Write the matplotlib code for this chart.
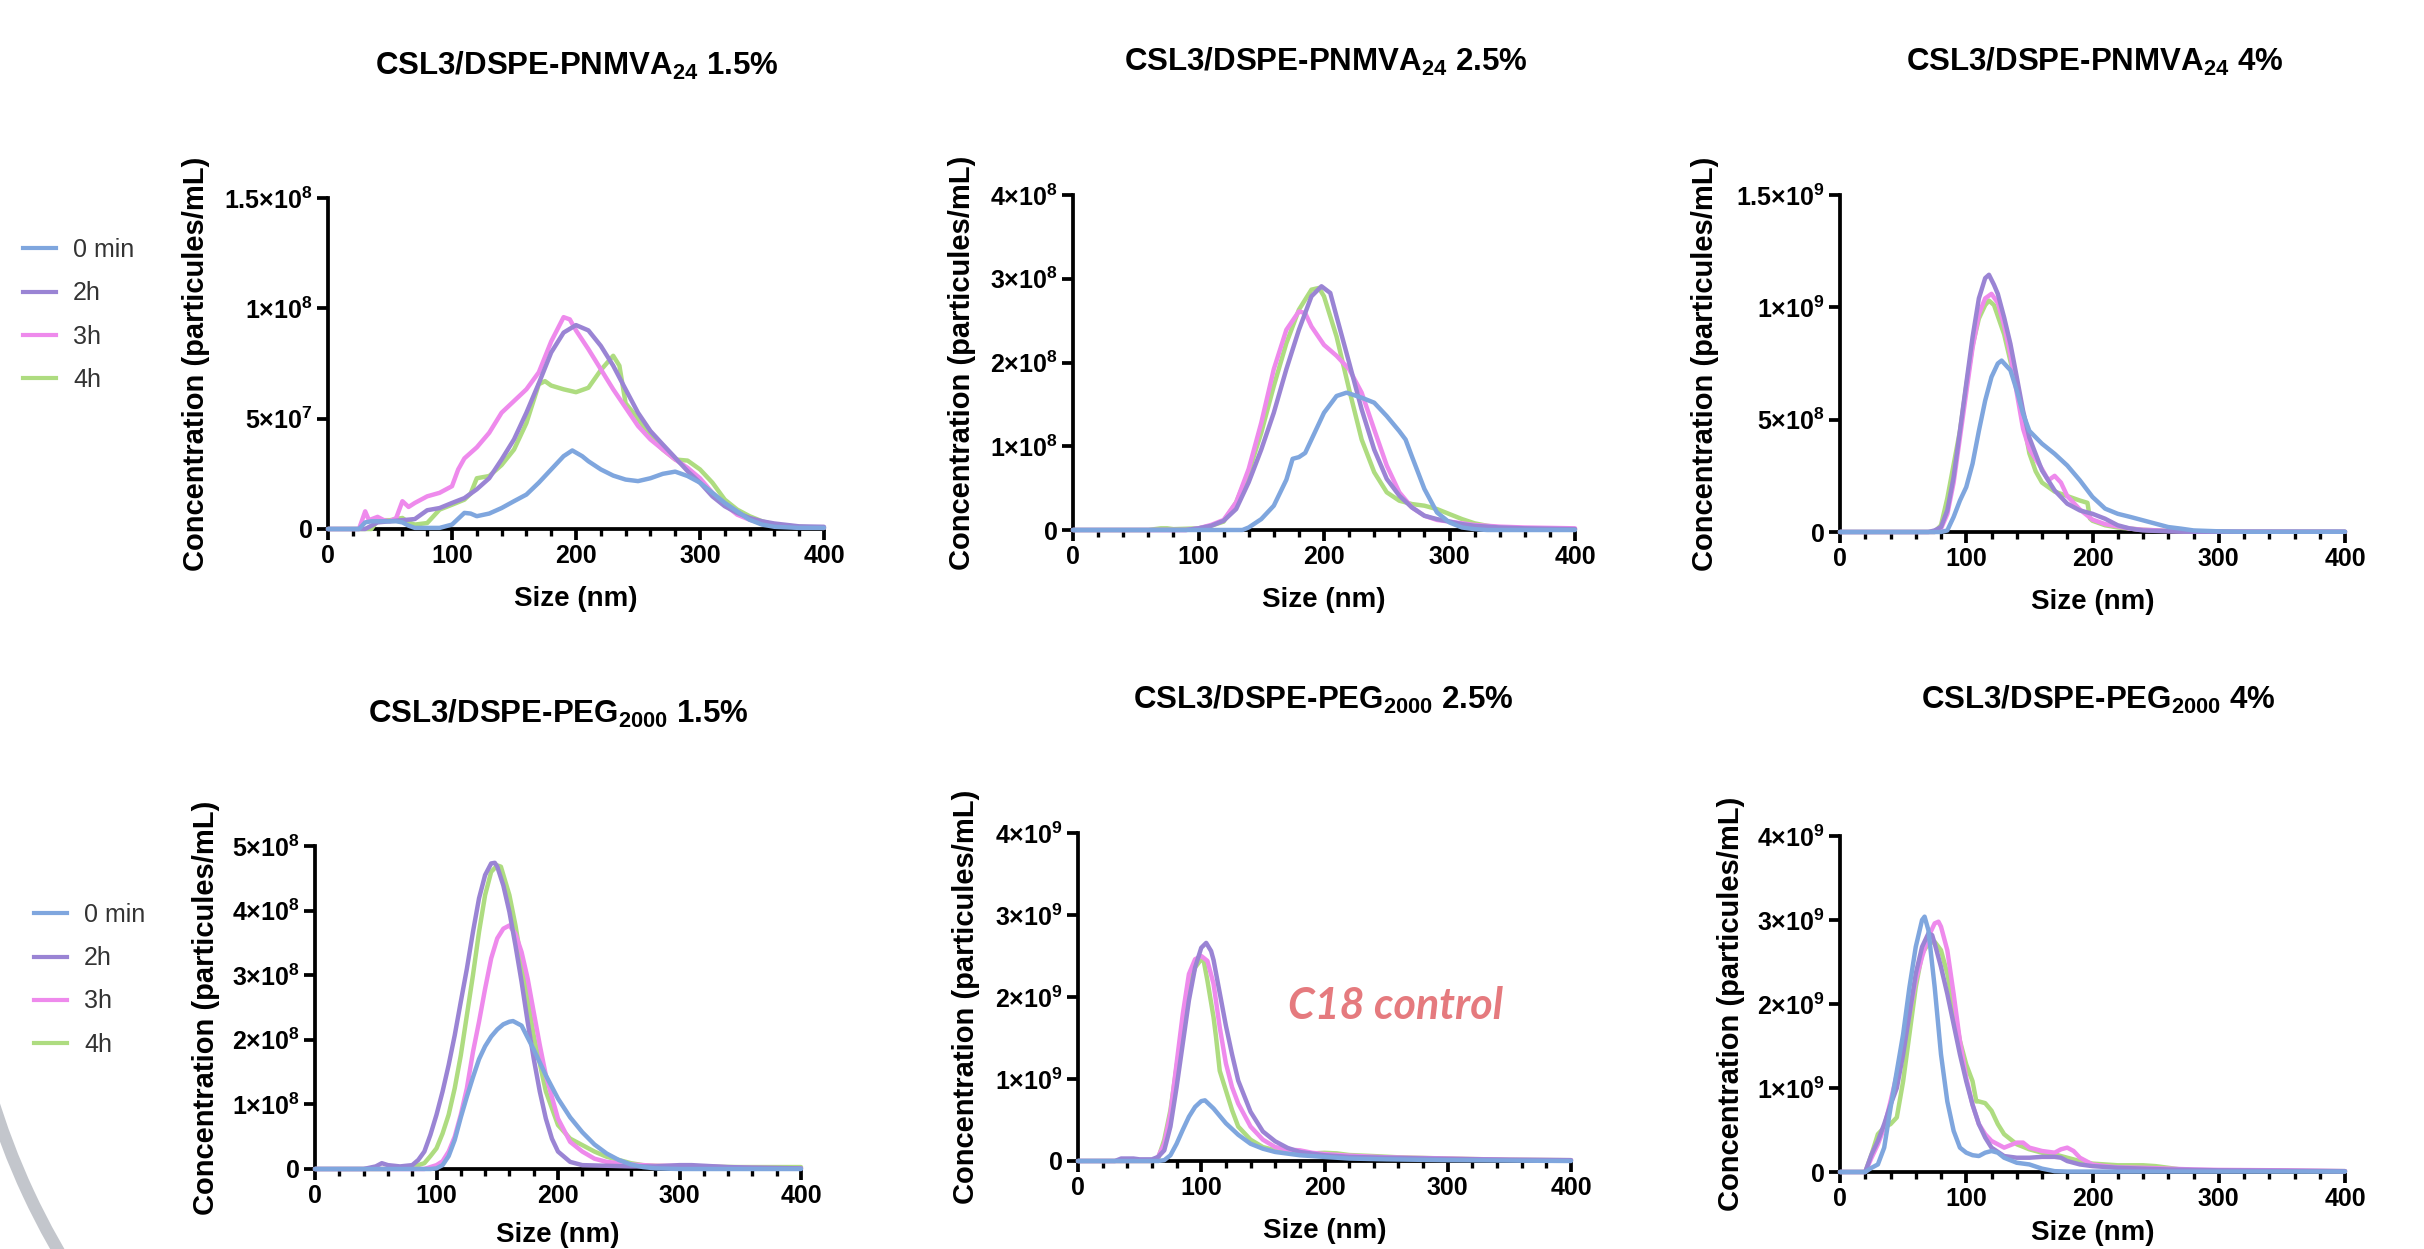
"""NTA size distributions over time, CSL3 formulations (6 panels)."""

import numpy as np
import matplotlib
matplotlib.use("Agg")
import matplotlib.pyplot as plt
from matplotlib.lines import Line2D
from matplotlib.patches import Arc
from matplotlib.transforms import IdentityTransform
from matplotlib.ticker import MultipleLocator

plt.rcParams['font.family'] = ['Liberation Sans', 'DejaVu Sans']
plt.rcParams['font.weight'] = 'bold'
plt.rcParams['axes.labelweight'] = 'bold'
plt.rcParams['mathtext.fontset'] = 'custom'
plt.rcParams['mathtext.rm'] = 'Liberation Sans:bold'
plt.rcParams['mathtext.it'] = 'Liberation Sans:bold'
plt.rcParams['mathtext.bf'] = 'Liberation Sans:bold'

W, H = 2424, 1249

# ── data (sizes in nm, concentrations in units of *_SCALE) ───────────────────
SERIES = ["0 min", "2h", "3h", "4h"]
COLORS = ["#7FA6DE", "#9A84D4", "#EE8AEC", "#AEDC80"]

# panel 1 : DSPE-PNMVA24 1.5 %  (x1e7)
P1_SCALE = 1e7
p1_0min_x = [0, 25, 30, 35, 45, 55, 60, 65, 70, 80, 90, 100, 110, 115, 120, 130, 140, 150, 160, 170, 180, 190,
             197, 205, 210, 220, 230, 240, 250, 260, 270, 280, 290, 300, 310, 320, 330, 340, 350, 360, 380, 400]
p1_0min_y = [0, 0, 0.3, 0.35, 0.35, 0.35, 0.3, 0.15, 0.05, 0.05, 0.05, 0.2, 0.73, 0.7, 0.58, 0.7, 0.95, 1.26,
             1.56, 2.1, 2.7, 3.3, 3.56, 3.3, 3.07, 2.7, 2.42, 2.24, 2.17, 2.3, 2.5, 2.6, 2.4, 2.1, 1.64, 1.18,
             0.8, 0.42, 0.2, 0.1, 0.05, 0.05]
p1_2h_x = [0, 30, 40, 50, 60, 70, 80, 90, 100, 110, 120, 130, 140, 150, 160, 170, 180, 190, 200, 210, 220, 230,
           240, 250, 260, 270, 280, 290, 300, 310, 320, 330, 340, 350, 360, 380, 400]
p1_2h_y = [0, 0, 0.3, 0.35, 0.4, 0.45, 0.85, 0.95, 1.18, 1.4, 1.8, 2.3, 3.15, 4.06, 5.27, 6.6, 8.0, 8.9, 9.24,
           9.0, 8.3, 7.4, 6.33, 5.27, 4.44, 3.83, 3.23, 2.62, 2.1, 1.48, 1.03, 0.73, 0.5, 0.35, 0.25, 0.12, 0.1]
p1_3h_x = [0, 25, 30, 33, 40, 45, 50, 55, 60, 65, 70, 80, 90, 100, 105, 110, 120, 130, 140, 150, 160, 170, 180,
           190, 195, 200, 210, 220, 230, 240, 250, 260, 270, 280, 290, 300, 310, 320, 330, 340, 350, 360, 380, 400]
p1_3h_y = [0, 0, 0.8, 0.4, 0.55, 0.4, 0.35, 0.5, 1.26, 1.0, 1.18, 1.48, 1.64, 1.94, 2.7, 3.2, 3.7, 4.36, 5.27,
           5.8, 6.33, 7.1, 8.5, 9.6, 9.5, 9.0, 8.15, 7.24, 6.33, 5.5, 4.67, 4.06, 3.6, 3.15, 2.77, 2.3, 1.64, 1.1,
           0.65, 0.42, 0.27, 0.15, 0.08, 0.05]
p1_4h_x = [0, 35, 40, 50, 60, 65, 70, 80, 90, 100, 110, 115, 120, 130, 140, 150, 160, 170, 175, 180, 190, 200,
           210, 220, 230, 235, 240, 250, 260, 270, 280, 290, 300, 310, 320, 330, 340, 350, 360, 380, 400]
p1_4h_y = [0, 0, 0.4, 0.4, 0.5, 0.3, 0.2, 0.27, 0.88, 1.1, 1.33, 1.6, 2.3, 2.4, 2.9, 3.6, 4.8, 6.56, 6.7, 6.5,
           6.33, 6.2, 6.4, 7.2, 7.85, 7.4, 5.7, 5.0, 4.2, 3.6, 3.15, 3.1, 2.7, 2.1, 1.33, 0.88, 0.58, 0.35, 0.2,
           0.1, 0.05]

# panel 2 : DSPE-PNMVA24 2.5 %  (x1e8)
P2_SCALE = 1e8
p2_0min_x = [0, 135, 140, 150, 160, 170, 175, 180, 185, 190, 200, 210, 218, 230, 240, 250, 260, 265, 270, 280,
             290, 300, 310, 320, 330, 400]
p2_0min_y = [0, 0, 0.03, 0.13, 0.29, 0.6, 0.85, 0.87, 0.92, 1.08, 1.4, 1.6, 1.64, 1.58, 1.52, 1.36, 1.18, 1.08,
             0.88, 0.49, 0.21, 0.09, 0.03, 0.01, 0, 0]
p2_2h_x = [0, 90, 100, 110, 120, 130, 140, 150, 160, 170, 180, 190, 198, 205, 210, 220, 230, 240, 250, 260, 270,
           280, 290, 300, 310, 320, 340, 360, 400]
p2_2h_y = [0, 0, 0.02, 0.05, 0.11, 0.25, 0.57, 0.96, 1.4, 1.92, 2.39, 2.79, 2.91, 2.83, 2.55, 2.0, 1.44, 0.96,
           0.61, 0.41, 0.27, 0.17, 0.13, 0.1, 0.07, 0.05, 0.03, 0.02, 0.01]
p2_3h_x = [0, 90, 100, 110, 120, 130, 140, 150, 160, 170, 180, 185, 190, 200, 210, 220, 230, 240, 250, 260, 270,
           280, 290, 300, 320, 340, 360, 400]
p2_3h_y = [0, 0, 0.02, 0.06, 0.12, 0.33, 0.73, 1.28, 1.92, 2.39, 2.61, 2.59, 2.43, 2.21, 2.08, 1.92, 1.64, 1.2,
           0.77, 0.45, 0.27, 0.17, 0.12, 0.1, 0.06, 0.04, 0.03, 0.02]
p2_4h_x = [0, 60, 70, 75, 80, 100, 110, 120, 130, 140, 150, 160, 170, 180, 190, 196, 200, 210, 220, 230, 240,
           250, 260, 270, 280, 290, 300, 310, 320, 330, 340, 360, 400]
p2_4h_y = [0, 0, 0.02, 0.02, 0.01, 0.02, 0.05, 0.1, 0.33, 0.69, 1.16, 1.72, 2.23, 2.63, 2.87, 2.89, 2.79, 2.31,
           1.68, 1.08, 0.69, 0.45, 0.35, 0.31, 0.29, 0.25, 0.19, 0.13, 0.08, 0.05, 0.03, 0.02, 0.01]

# panel 3 : DSPE-PNMVA24 4 %  (x1e8)
P3_SCALE = 1e8
p3_0min_x = [0, 80, 85, 90, 95, 100, 105, 110, 115, 120, 125, 128, 135, 140, 145, 150, 160, 170, 180, 190, 200,
             210, 220, 230, 240, 250, 260, 270, 280, 300, 320, 400]
p3_0min_y = [0, 0, 0.07, 0.67, 1.4, 2.0, 3.04, 4.5, 5.85, 6.9, 7.5, 7.63, 7.2, 6.3, 5.26, 4.5, 3.93, 3.48, 2.96,
             2.3, 1.56, 1.04, 0.81, 0.67, 0.52, 0.37, 0.22, 0.15, 0.07, 0.03, 0.01, 0.01]
p3_2h_x = [0, 70, 75, 80, 85, 90, 95, 100, 105, 110, 115, 118, 122, 125, 130, 135, 140, 145, 150, 160, 170, 180,
           190, 200, 210, 220, 230, 240, 260, 280, 400]
p3_2h_y = [0, 0, 0.07, 0.22, 0.96, 2.44, 4.5, 6.6, 8.67, 10.4, 11.3, 11.45, 11.0, 10.6, 9.55, 8.37, 6.9, 5.4,
           4.2, 2.74, 1.85, 1.26, 0.96, 0.81, 0.59, 0.3, 0.15, 0.07, 0.03, 0.01, 0.01]
p3_3h_x = [0, 75, 80, 85, 90, 95, 100, 105, 110, 115, 120, 125, 130, 135, 140, 145, 150, 160, 165, 170, 175,
           180, 190, 200, 210, 220, 230, 240, 260, 280, 400]
p3_3h_y = [0, 0, 0.15, 0.8, 2.2, 4.2, 6.2, 8.2, 9.7, 10.4, 10.6, 10.2, 9.2, 7.9, 6.2, 4.6, 3.7, 2.8, 2.3, 2.5,
           2.2, 1.6, 1.0, 0.55, 0.35, 0.25, 0.15, 0.1, 0.05, 0.02, 0.01]
p3_4h_x = [0, 75, 80, 85, 90, 95, 100, 105, 110, 115, 118, 122, 130, 135, 140, 145, 150, 155, 160, 170, 180,
           190, 196, 198, 200, 210, 220, 240, 260, 280, 400]
p3_4h_y = [0, 0, 0.3, 1.5, 3.0, 4.5, 6.5, 8.3, 9.5, 10.1, 10.3, 10.1, 8.8, 7.6, 6.5, 5.0, 3.5, 2.7, 2.2, 1.8,
           1.6, 1.4, 1.3, 0.6, 0.5, 0.3, 0.2, 0.1, 0.05, 0.02, 0.01]

# panel 4 : DSPE-PEG2000 1.5 %  (x1e8)
P4_SCALE = 1e8
p4_0min_x = [0, 95, 100, 105, 110, 115, 120, 125, 130, 135, 140, 145, 150, 155, 160, 163, 170, 180, 190, 200,
             210, 220, 230, 240, 250, 260, 270, 280, 300, 400]
p4_0min_y = [0, 0, 0.01, 0.06, 0.2, 0.45, 0.8, 1.12, 1.42, 1.7, 1.9, 2.05, 2.16, 2.24, 2.28, 2.29, 2.22, 1.85,
             1.45, 1.09, 0.8, 0.57, 0.38, 0.24, 0.14, 0.07, 0.03, 0.01, 0, 0]
p4_2h_x = [0, 40, 50, 55, 60, 70, 80, 85, 90, 95, 100, 105, 110, 115, 120, 125, 130, 135, 140, 145, 148, 150,
           155, 160, 165, 170, 175, 180, 185, 190, 195, 200, 210, 220, 240, 260, 280, 300, 310, 320, 340, 360, 400]
p4_2h_y = [0, 0, 0.04, 0.09, 0.06, 0.04, 0.06, 0.14, 0.27, 0.53, 0.84, 1.2, 1.61, 2.07, 2.59, 3.1, 3.67, 4.19,
           4.55, 4.73, 4.74, 4.68, 4.39, 3.98, 3.46, 2.9, 2.28, 1.71, 1.2, 0.78, 0.47, 0.27, 0.11, 0.06, 0.05,
           0.04, 0.04, 0.06, 0.06, 0.05, 0.03, 0.02, 0.01]
p4_3h_x = [0, 90, 100, 105, 110, 115, 120, 125, 130, 135, 140, 145, 150, 155, 160, 165, 170, 175, 180, 185, 190,
           200, 210, 220, 230, 240, 250, 260, 280, 300, 320, 350, 400]
p4_3h_y = [0, 0, 0.06, 0.12, 0.27, 0.5, 0.84, 1.25, 1.81, 2.28, 2.79, 3.26, 3.57, 3.72, 3.77, 3.64, 3.36, 2.95,
           2.43, 1.92, 1.45, 0.78, 0.42, 0.27, 0.16, 0.11, 0.09, 0.07, 0.05, 0.05, 0.04, 0.02, 0.01]
p4_4h_x = [0, 60, 70, 80, 90, 95, 100, 105, 110, 115, 120, 125, 130, 135, 140, 145, 150, 153, 160, 165, 170,
           175, 180, 190, 200, 210, 220, 230, 240, 250, 260, 270, 280, 300, 350, 400]
p4_4h_y = [0, 0, 0.02, 0.03, 0.09, 0.2, 0.32, 0.55, 0.84, 1.25, 1.76, 2.38, 3.0, 3.67, 4.24, 4.6, 4.7, 4.68,
           4.24, 3.77, 3.2, 2.64, 2.07, 1.2, 0.68, 0.47, 0.37, 0.27, 0.19, 0.14, 0.09, 0.06, 0.05, 0.04, 0.03, 0.03]

# panel 5 : DSPE-PEG2000 2.5 % (C18 control)  (x1e9)
P5_SCALE = 1e9
p5_0min_x = [0, 65, 70, 75, 80, 85, 90, 95, 100, 103, 110, 120, 130, 140, 150, 160, 170, 180, 190, 200, 220,
             250, 300, 400]
p5_0min_y = [0, 0, 0.01, 0.07, 0.21, 0.38, 0.54, 0.66, 0.73, 0.74, 0.64, 0.46, 0.32, 0.21, 0.15, 0.11, 0.09,
             0.07, 0.06, 0.05, 0.03, 0.02, 0.01, 0]
p5_2h_x = [0, 30, 35, 45, 50, 60, 65, 70, 75, 80, 85, 90, 95, 100, 104, 108, 110, 115, 120, 125, 130, 140, 150,
           160, 170, 180, 190, 200, 220, 250, 300, 350, 400]
p5_2h_y = [0, 0, 0.03, 0.03, 0.02, 0.02, 0.05, 0.13, 0.42, 0.9, 1.43, 1.96, 2.36, 2.6, 2.66, 2.56, 2.45, 2.05,
           1.65, 1.3, 0.98, 0.6, 0.36, 0.24, 0.16, 0.11, 0.09, 0.07, 0.05, 0.04, 0.025, 0.015, 0.01]
p5_3h_x = [0, 60, 65, 70, 75, 80, 85, 90, 95, 100, 105, 110, 115, 120, 125, 130, 140, 150, 160, 170, 180, 190,
           200, 220, 250, 300, 350, 400]
p5_3h_y = [0, 0, 0.05, 0.21, 0.58, 1.19, 1.79, 2.28, 2.46, 2.5, 2.44, 2.16, 1.63, 1.19, 0.9, 0.7, 0.42, 0.26,
           0.17, 0.14, 0.13, 0.1, 0.085, 0.065, 0.045, 0.03, 0.015, 0.01]
p5_4h_x = [0, 60, 65, 70, 75, 80, 85, 90, 95, 100, 102, 105, 110, 112, 115, 120, 125, 130, 140, 150, 160, 170,
           180, 190, 200, 210, 220, 240, 260, 300, 350, 400]
p5_4h_y = [0, 0, 0.03, 0.26, 0.62, 1.15, 1.63, 2.12, 2.36, 2.46, 2.44, 2.2, 1.75, 1.51, 1.1, 0.86, 0.62, 0.42,
           0.26, 0.17, 0.13, 0.11, 0.1, 0.093, 0.1, 0.093, 0.073, 0.06, 0.045, 0.03, 0.015, 0.01]

# panel 6 : DSPE-PEG2000 4 %  (x1e9)
P6_SCALE = 1e9
p6_0min_x = [0, 20, 25, 30, 35, 40, 45, 50, 55, 60, 65, 67, 70, 75, 80, 85, 90, 95, 100, 105, 110, 115, 120,
             125, 130, 140, 150, 160, 170, 180, 400]
p6_0min_y = [0, 0, 0.05, 0.09, 0.29, 0.76, 1.2, 1.64, 2.2, 2.68, 3.0, 3.04, 2.88, 2.2, 1.4, 0.84, 0.49, 0.29,
             0.23, 0.2, 0.19, 0.23, 0.25, 0.23, 0.17, 0.11, 0.09, 0.04, 0.01, 0.005, 0.005]
p6_2h_x = [0, 20, 25, 30, 35, 40, 45, 50, 55, 60, 65, 70, 73, 75, 80, 85, 90, 95, 100, 105, 110, 115, 120, 130,
           140, 150, 160, 170, 175, 180, 190, 200, 220, 240, 260, 300, 400]
p6_2h_y = [0, 0, 0.21, 0.37, 0.57, 0.8, 1.0, 1.4, 1.88, 2.36, 2.68, 2.84, 2.82, 2.72, 2.44, 2.12, 1.76, 1.4,
           1.08, 0.8, 0.57, 0.41, 0.29, 0.19, 0.17, 0.17, 0.18, 0.18, 0.17, 0.13, 0.09, 0.07, 0.05, 0.04, 0.03,
           0.02, 0.01]
p6_3h_x = [0, 20, 25, 30, 35, 40, 45, 50, 55, 60, 65, 70, 75, 78, 80, 85, 90, 95, 100, 105, 110, 115, 120, 130,
           140, 145, 150, 160, 170, 175, 180, 185, 190, 200, 210, 220, 240, 260, 280, 300, 350, 400]
p6_3h_y = [0, 0, 0.17, 0.33, 0.53, 0.84, 1.16, 1.48, 1.88, 2.28, 2.56, 2.8, 2.96, 2.98, 2.92, 2.64, 2.12, 1.56,
           1.12, 0.8, 0.57, 0.45, 0.37, 0.29, 0.35, 0.35, 0.29, 0.25, 0.23, 0.27, 0.29, 0.25, 0.17, 0.09, 0.07,
           0.055, 0.05, 0.04, 0.03, 0.025, 0.02, 0.01]
p6_4h_x = [0, 20, 25, 30, 35, 40, 45, 50, 55, 60, 65, 70, 75, 80, 85, 90, 95, 100, 105, 108, 110, 115, 120, 125,
           130, 140, 150, 160, 170, 180, 190, 200, 210, 220, 240, 250, 260, 270, 280, 300, 400]
p6_4h_y = [0, 0, 0.21, 0.45, 0.53, 0.57, 0.65, 1.08, 1.64, 2.2, 2.6, 2.72, 2.74, 2.64, 2.36, 1.96, 1.56, 1.28,
           1.08, 0.84, 0.84, 0.82, 0.73, 0.57, 0.45, 0.33, 0.27, 0.23, 0.21, 0.17, 0.13, 0.1, 0.09, 0.08, 0.08,
           0.07, 0.05, 0.03, 0.02, 0.015, 0.01]

# y ticks (values + labels) per panel
P1_YTICKS = [0, 5e7, 1e8, 1.5e8]
P1_YLABELS = ["0", r"$5{\times}10^{7}$", r"$1{\times}10^{8}$", r"$1.5{\times}10^{8}$"]
P2_YTICKS = [0, 1e8, 2e8, 3e8, 4e8]
P2_YLABELS = ["0", r"$1{\times}10^{8}$", r"$2{\times}10^{8}$", r"$3{\times}10^{8}$", r"$4{\times}10^{8}$"]
P3_YTICKS = [0, 5e8, 1e9, 1.5e9]
P3_YLABELS = ["0", r"$5{\times}10^{8}$", r"$1{\times}10^{9}$", r"$1.5{\times}10^{9}$"]
P4_YTICKS = [0, 1e8, 2e8, 3e8, 4e8, 5e8]
P4_YLABELS = ["0", r"$1{\times}10^{8}$", r"$2{\times}10^{8}$", r"$3{\times}10^{8}$", r"$4{\times}10^{8}$",
              r"$5{\times}10^{8}$"]
P5_YTICKS = [0, 1e9, 2e9, 3e9, 4e9]
P5_YLABELS = ["0", r"$1{\times}10^{9}$", r"$2{\times}10^{9}$", r"$3{\times}10^{9}$", r"$4{\times}10^{9}$"]
P6_YTICKS = P5_YTICKS
P6_YLABELS = P5_YLABELS

TITLES = [r"CSL3/DSPE-PNMVA$_{24}$ 1.5%", r"CSL3/DSPE-PNMVA$_{24}$ 2.5%", r"CSL3/DSPE-PNMVA$_{24}$ 4%",
          r"CSL3/DSPE-PEG$_{2000}$ 1.5%", r"CSL3/DSPE-PEG$_{2000}$ 2.5%", r"CSL3/DSPE-PEG$_{2000}$ 4%"]

panels = [
    (P1_SCALE, [(p1_0min_x, p1_0min_y), (p1_2h_x, p1_2h_y), (p1_3h_x, p1_3h_y), (p1_4h_x, p1_4h_y)],
     P1_YTICKS, P1_YLABELS),
    (P2_SCALE, [(p2_0min_x, p2_0min_y), (p2_2h_x, p2_2h_y), (p2_3h_x, p2_3h_y), (p2_4h_x, p2_4h_y)],
     P2_YTICKS, P2_YLABELS),
    (P3_SCALE, [(p3_0min_x, p3_0min_y), (p3_2h_x, p3_2h_y), (p3_3h_x, p3_3h_y), (p3_4h_x, p3_4h_y)],
     P3_YTICKS, P3_YLABELS),
    (P4_SCALE, [(p4_0min_x, p4_0min_y), (p4_2h_x, p4_2h_y), (p4_3h_x, p4_3h_y), (p4_4h_x, p4_4h_y)],
     P4_YTICKS, P4_YLABELS),
    (P5_SCALE, [(p5_0min_x, p5_0min_y), (p5_2h_x, p5_2h_y), (p5_3h_x, p5_3h_y), (p5_4h_x, p5_4h_y)],
     P5_YTICKS, P5_YLABELS),
    (P6_SCALE, [(p6_0min_x, p6_0min_y), (p6_2h_x, p6_2h_y), (p6_3h_x, p6_3h_y), (p6_4h_x, p6_4h_y)],
     P6_YTICKS, P6_YLABELS),
]

# ── layout (pixel boxes: left, right, bottom, top) ───────────────────────────
boxes = [(328, 824, 529, 198), (1073, 1575, 530, 195), (1840, 2345, 532, 195),
         (315, 801, 1169, 846), (1078, 1571, 1161, 833), (1840, 2345, 1172, 836)]
title_pos = [(577, 66), (1326, 62), (2095, 62), (558, 714), (1323, 700), (2098, 700)]
ylab_x = [-132, -111, -135, -109, -112, -109]   # px left of y-axis
xlab_dy = [70, 70, 70, 66, 70, 61]              # px below x-axis

fig = plt.figure(figsize=(W / 100, H / 100), dpi=100)

for i, (scale, series, yt, yl) in enumerate(panels):
    l, r, b, t = boxes[i]
    ax = fig.add_axes([l / W, 1 - b / H, (r - l) / W, (b - t) / H])
    # draw 4h first so 0 min ends on top
    for k in [3, 2, 1, 0]:
        x, y = series[k]
        ax.plot(np.array(x), np.array(y) * scale, color=COLORS[k], lw=3.2,
                clip_on=False, zorder=3, solid_joinstyle='round', solid_capstyle='round')
    ax.set_xlim(0, 400)
    ax.set_ylim(0, yt[-1])
    ax.xaxis.set_major_locator(MultipleLocator(100))
    ax.xaxis.set_minor_locator(MultipleLocator(20))
    ax.set_yticks(yt, yl)
    for s in ['top', 'right']:
        ax.spines[s].set_visible(False)
    for s in ['left', 'bottom']:
        ax.spines[s].set_linewidth(2.7)
    ax.tick_params(which='major', direction='out', length=8, width=2.7, labelsize=18, pad=3)
    ax.tick_params(which='minor', direction='out', length=5, width=2.4)
    ax.tick_params(axis='y', which='minor', left=False)
    for lab in ax.get_xticklabels() + ax.get_yticklabels():
        lab.set_fontweight('bold')
    ax.set_ylabel("Concentration (particules/mL)", fontsize=21, fontweight='bold', va='center')
    ax.yaxis.set_label_coords(ylab_x[i] / (r - l), 0.5)
    ax.set_xlabel("Size (nm)", fontsize=20, fontweight='bold', va='center')
    ax.xaxis.set_label_coords(0.5, -xlab_dy[i] / (b - t))

    tx, ty = title_pos[i]
    fig.text(tx / W, 1 - ty / H, TITLES[i], fontsize=22.5, fontweight='bold', ha='center', va='center')

# legends (left of the first panel in each row)
handles = [Line2D([], [], color=c, lw=3.0) for c in COLORS]
for (lx, ly) in [(23, 238), (34, 903)]:
    fig.legend(handles, SERIES, loc='upper left', bbox_to_anchor=(lx / W, 1 - ly / H),
               frameon=False, borderpad=0, borderaxespad=0, handlelength=1.3, handletextpad=0.7,
               labelspacing=0.77, prop={'size': 18, 'weight': 'normal'}, labelcolor='#333333')

fig.text(1395 / W, 1 - 1006 / H, "C18 control", color='#E57A7E', fontsize=31,
         fontstyle='italic', fontweight='bold', family=['Lato', 'DejaVu Sans'], ha='center', va='center')

# decorative grey arc in the bottom-left corner (pixel coords)
arc = Arc((690, H - 885), 1460, 1460, theta1=188, theta2=222, color='#C3C6CC', lw=9,
          transform=IdentityTransform())
fig.add_artist(arc)

fig.savefig("out.png", dpi=100)
